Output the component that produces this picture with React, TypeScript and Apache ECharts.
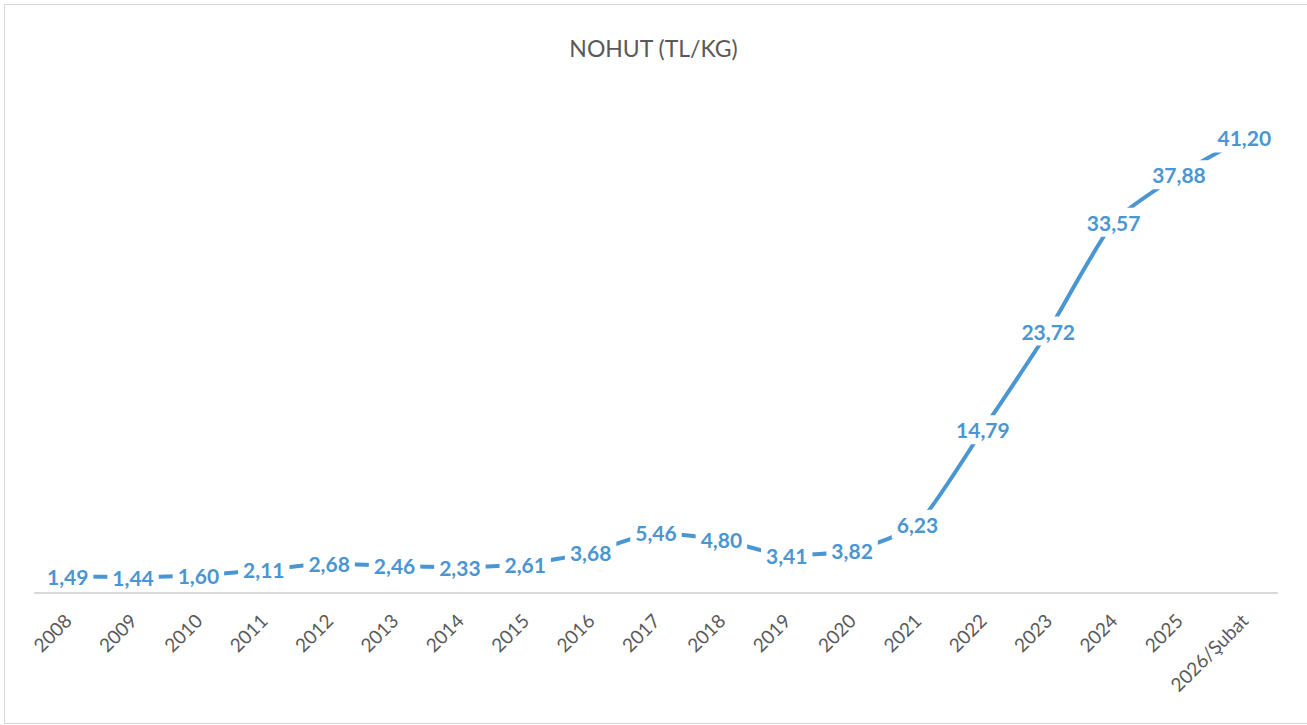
import React, { useEffect, useRef } from "react";
import * as echarts from "echarts";

const categories = ["2008","2009","2010","2011","2012","2013","2014","2015","2016","2017","2018","2019","2020","2021","2022","2023","2024","2025","2026/Şubat"];
const values = [1.49,1.44,1.6,2.11,2.68,2.46,2.33,2.61,3.68,5.46,4.8,3.41,3.82,6.23,14.79,23.72,33.57,37.88,41.2];
const titleText = "NOHUT (TL/KG)";

export default function App() {
  const ref = useRef<HTMLDivElement>(null);
  useEffect(() => {
    document.body.style.margin = "0";
    const chart = echarts.init(ref.current!, null, { renderer: "svg" });
    chart.setOption({
      animation: false,
      backgroundColor: "transparent",
      title: {
        text: titleText,
        left: "center",
        top: 31,
        textStyle: { fontFamily: "Lato", fontSize: 23, fontWeight: "normal", color: "#595959" },
      },
      grid: { left: 35, right: 30, top: 96, bottom: 132, containLabel: false },
      xAxis: {
        type: "category",
        data: categories,
        boundaryGap: true,
        axisLine: { lineStyle: { color: "#d9d9d9", width: 2 } },
        axisTick: { show: false },
        axisLabel: { rotate: 45, margin: 24, color: "#595959", fontFamily: "Lato", fontSize: 19, interval: 0 },
      },
      yAxis: {
        type: "value",
        min: 0,
        max: 45,
        show: false,
        splitLine: { show: false },
      },
      series: [{
        type: "line",
        data: values,
        smooth: 0.18,
        symbol: "circle",
        symbolSize: 1,
        showSymbol: true,
        itemStyle: { color: "rgba(0,0,0,0)" },
        lineStyle: { color: "#4a96d2", width: 4 },
        label: {
          show: true,
          position: "inside",
          formatter: (p: any) => p.value.toFixed(2).replace(".", ","),
          color: "#4a96d2",
          fontFamily: "Lato",
          fontWeight: "bold",
          fontSize: 21,
          backgroundColor: "#ffffff",
          padding: [4, 5],
        },
      }],
    });
    return () => chart.dispose();
  }, []);
  return (
    <div style={{ position: "absolute", left: 0, top: 0, width: 1307, height: 725, background: "#fff" }}>
      <div style={{ position: "absolute", left: 4, top: 4, width: 1305, height: 720, border: "1.5px solid #d9d9d9", boxSizing: "border-box" }} />
      <div ref={ref} style={{ position: "absolute", left: 0, top: 0, width: 1307, height: 725 }} />
    </div>
  );
}
